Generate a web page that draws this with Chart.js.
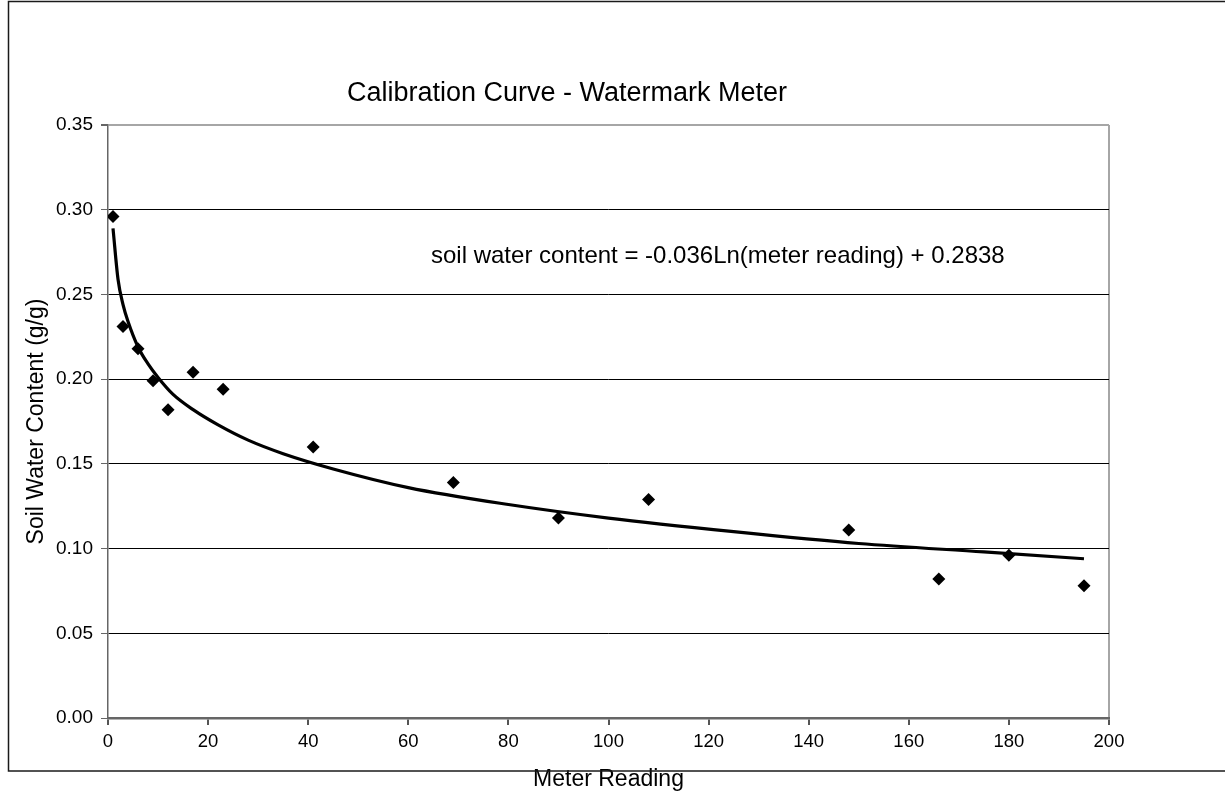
<!DOCTYPE html>
<html>
<head>
<meta charset="utf-8">
<title>Calibration Curve - Watermark Meter</title>
<script src="https://cdn.jsdelivr.net/npm/chart.js@4.4.1/dist/chart.umd.min.js"></script>
<style>
  html, body { margin: 0; padding: 0; background: #fff; }
  #wrap { width: 1225px; height: 791px; }
</style>
</head>
<body>
<div id="wrap"><canvas id="calib-chart" width="1225" height="791"></canvas></div>
<script>
const FONT = "'Liberation Sans', Arial, sans-serif";

// measured points (meter reading vs soil water content)
const meterReading = [1, 3, 6, 9, 12, 17, 23, 41, 69, 90, 108, 148, 166, 180, 195];
const waterContent = [0.296, 0.231, 0.218, 0.199, 0.182, 0.204, 0.194, 0.160, 0.139, 0.118, 0.129, 0.111, 0.082, 0.096, 0.078];

// log trendline
const trendX = [1, 2, 3, 4, 6, 8, 10, 13, 17, 22, 28, 35, 45, 60, 80, 100, 125, 150, 175, 195];
const trendY = [0.289, 0.259, 0.244, 0.234, 0.219, 0.209, 0.201, 0.191, 0.182, 0.173, 0.164, 0.156, 0.147, 0.136, 0.126, 0.118, 0.110, 0.103, 0.098, 0.094];

const chartTitle = 'Calibration Curve - Watermark Meter';
const equationText = 'soil water content = -0.036Ln(meter reading) + 0.2838';
const xTitle = 'Meter Reading';
const yTitle = 'Soil Water Content (g/g)';

const points = meterReading.map((x, i) => ({ x: x, y: waterContent[i] }));
const trend = trendX.map((x, i) => ({ x: x, y: trendY[i] }));

// outer frame, title and equation text
const extras = {
    id: 'extras',
    afterDraw(chart) {
        const ctx = chart.ctx;
        ctx.save();
        ctx.strokeStyle = '#1a1a1a';
        ctx.lineWidth = 1.5;
        ctx.strokeRect(8.5, 1.5, 1300, 769.5);

        ctx.fillStyle = '#000';
        ctx.textBaseline = 'middle';
        ctx.textAlign = 'center';
        ctx.font = '27px ' + FONT;
        ctx.fillText(chartTitle, 567, 94);

        ctx.textAlign = 'left';
        ctx.font = '24px ' + FONT;
        ctx.fillText(equationText, 431, 256);
        ctx.restore();
    }
};

const ctx = document.getElementById('calib-chart').getContext('2d');

new Chart(ctx, {
    type: 'scatter',
    data: {
        datasets: [{
            label: 'Measured',
            data: points,
            pointStyle: 'rectRot',
            pointRadius: 6.5,
            pointHoverRadius: 6.5,
            backgroundColor: '#000',
            borderColor: '#000',
            borderWidth: 0
        }, {
            label: 'Log trend',
            data: trend,
            showLine: true,
            pointRadius: 0,
            borderColor: '#000',
            borderWidth: 3.2,
            cubicInterpolationMode: 'monotone'
        }]
    },
    options: {
        responsive: false,
        animation: false,
        layout: { padding: { left: 0, right: 116, top: 125, bottom: 0 } },
        plugins: {
            legend: { display: false },
            title: { display: false },
            tooltip: { enabled: false }
        },
        scales: {
            x: {
                type: 'linear',
                min: 0,
                max: 200,
                afterFit: (scale) => { scale.height = 73; },
                ticks: {
                    stepSize: 20,
                    color: '#000',
                    padding: 6,
                    font: { family: FONT, size: 18.5 }
                },
                grid: {
                    drawOnChartArea: true,
                    color: (c) => (c.tick && c.tick.value === 200) ? '#a6a6a6' : 'rgba(0,0,0,0)',
                    lineWidth: 2,
                    tickColor: '#555',
                    tickLength: 7
                },
                border: { color: '#666', width: 2.5 },
                title: {
                    display: true,
                    text: xTitle,
                    color: '#000',
                    font: { family: FONT, size: 23, lineHeight: 1 },
                    padding: { top: 0, bottom: 0 }
                }
            },
            y: {
                type: 'linear',
                min: 0,
                max: 0.35,
                afterFit: (scale) => { scale.width = 108; },
                ticks: {
                    stepSize: 0.05,
                    color: '#000',
                    padding: 8,
                    font: { family: FONT, size: 19 },
                    callback: (v) => v.toFixed(2)
                },
                grid: {
                    color: (c) => (c.tick && Math.abs(c.tick.value - 0.35) < 1e-9) ? '#a6a6a6' : '#000',
                    lineWidth: (c) => (c.tick && Math.abs(c.tick.value - 0.35) < 1e-9) ? 2 : 1,
                    tickColor: '#666',
                    tickLength: 7
                },
                border: { color: '#666', width: 1.5 },
                title: {
                    display: true,
                    text: yTitle,
                    color: '#000',
                    font: { family: FONT, size: 23, lineHeight: 1 },
                    padding: { top: 25, bottom: 0 }
                }
            }
        }
    },
    plugins: [extras]
});
</script>
</body>
</html>
